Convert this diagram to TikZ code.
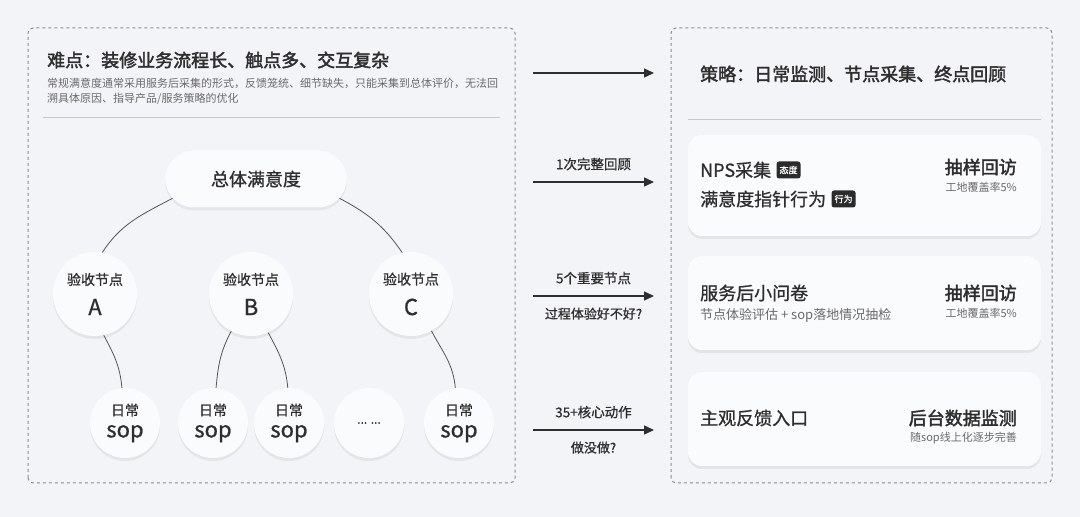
\documentclass[tikz,border=0pt]{standalone}
\usepackage{fontspec}
\setmainfont{Noto Sans CJK SC}[BoldFont={Noto Sans CJK SC},BoldFeatures={FakeBold=2.2}]
\newfontfamily\medfont{Noto Sans CJK SC}[FakeBold=0.9]
\usepackage{tikz}
\usetikzlibrary{positioning}
\usetikzlibrary{arrows.meta,shapes.misc,shadows}

\definecolor{bgc}{HTML}{F3F4F8}
\definecolor{cardc}{HTML}{FAFBFD}
\definecolor{inkc}{HTML}{2E2E2E}
\definecolor{grayc}{HTML}{6A6A6A}
\definecolor{dashc}{HTML}{8C8C8C}
\definecolor{rulec}{HTML}{C6C8CD}
\definecolor{wirec}{HTML}{555555}
\definecolor{badgec}{HTML}{2B2B2B}
\newcommand\fsz[2]{\fontsize{#1pt}{#2pt}\selectfont}

\begin{document}
\begin{tikzpicture}[x=1pt,y=1pt,->,>={Triangle[length=10pt,width=9pt]},
  frame/.style={-,draw=dashc,line width=1pt,dash pattern=on 3pt off 3pt,rounded corners=5pt},
  rule/.style={-,draw=rulec,line width=1pt},
  soft/.style={drop shadow={shadow xshift=0pt,shadow yshift=-3pt,opacity=.06,fill=black}},
  pill/.style={rounded rectangle,fill=cardc,soft,minimum width=188pt,minimum height=57pt,text=inkc,font=\medfont\fsz{18}{20}},
  ring/.style={circle,fill=cardc,soft,minimum size=84pt,inner sep=0pt,align=center,text=inkc,font=\medfont\fsz{14}{16}},
  dot/.style={circle,fill=cardc,soft,minimum size=70pt,inner sep=0pt,align=center,text=inkc,font=\medfont\fsz{14}{16}},
  card/.style={rectangle,rounded corners=14pt,fill=cardc,soft,minimum width=353pt},
  txt/.style={inner sep=0pt,text=inkc},
  head/.style={txt,font=\bfseries\fsz{18}{20}},
  big/.style={txt,font=\medfont\fsz{18}{20}},
  small/.style={txt,text=grayc,font=\fsz{11}{13}},
  badge/.style={fill=badgec,text=white,rounded corners=2.5pt,inner xsep=3pt,inner ysep=0pt,minimum height=17pt,font=\medfont\fsz{9}{10}},
  wire/.style={-,draw=wirec,line width=.8pt},
  flow/.style={draw=inkc,line width=1.3pt},
  tip/.style={txt,font=\medfont\fsz{13.5}{15}}]

\useasboundingbox[fill=bgc] (0,0) rectangle (1080,517);

% left: the problem
\draw[frame] (28,34) rectangle (515,489);
\node[head,anchor=west] (hard) at (47,457) {难点：装修业务流程长、触点多、交互复杂};
\node[small,anchor=west,align=left,font=\fsz{11}{15.5}] (hardsub) at (47,425.5)
  {常规满意度通常采用服务后采集的形式，反馈笼统、细节缺失，只能采集到总体评价，无法回\\溯具体原因、指导产品/服务策略的优化};
\draw[rule] (43,399) -- (500,399);

\node[pill] (total) at (256,338) {总体满意度};
\node[ring] (na) at (95,223) {验收节点\\[12pt]{\fsz{22}{24}A}};
\node[ring] (nb) at (251,223) {验收节点\\[12pt]{\fsz{22}{24}B}};
\node[ring] (nc) at (411,223) {验收节点\\[12pt]{\fsz{22}{24}C}};
\node[dot] (s1) at (125,94) {日常\\[6pt]{\fsz{22}{22}sop}};
\node[dot] (s2) at (213,94) {日常\\[6pt]{\fsz{22}{22}sop}};
\node[dot] (s3) at (289,94) {日常\\[6pt]{\fsz{22}{22}sop}};
\node[dot,font=\medfont\fsz{12}{14}] (s4) at (369,94) {... ...};
\node[dot] (s5) at (459,94) {日常\\[6pt]{\fsz{22}{22}sop}};

\draw[wire] (total.193) to[out=208,in=57] (na.80);
\draw[wire] (total.347) to[out=332,in=124] (nc.102);
\draw[wire] (na.282) to[out=-62,in=95] (s1.95);
\draw[wire] (nb.242) to[out=-118,in=85] (s2.85);
\draw[wire] (nb.294) to[out=-62,in=95] (s3.92);
\draw[wire] (nc.299) to[out=-62,in=95] (s5.96);

% arrows in between
\coordinate (f1s) at (533,444); \coordinate (f1e) at (654,444);
\coordinate (f2s) at (533,335); \coordinate (f2e) at (654,335);
\coordinate (f3s) at (533,221); \coordinate (f3e) at (654,221);
\coordinate (f4s) at (533,87);  \coordinate (f4e) at (654,87);
\draw[flow] (f1s) -- (f1e);
\draw[flow] (f2s) -- node[tip,above=11pt] {1次完整回顾} (f2e);
\draw[flow] (f3s) -- node[tip,above=11pt] {5个重要节点}
  node[tip,below=11pt,font=\medfont\fsz{13}{15}] {过程体验好不好?} (f3e);
\draw[flow] (f4s) -- node[tip,above=11pt] {35+核心动作}
  node[tip,below=11pt,font=\medfont\fsz{13}{15}] {做没做?} (f4e);

% right: the plan
\draw[frame] (671,34) rectangle (1052,489);
\node[head,anchor=west] (plan) at (700,443) {策略：日常监测、节点采集、终点回顾};
\draw[rule] (688,397) -- (1041,397);

\node[card,minimum height=101pt] (c1) at (864.5,331.5) {};
\node[card,minimum height=94pt] (c2) at (864.5,214) {};
\node[card,minimum height=94pt] (c3) at (864.5,98) {};

\node[big,anchor=west] (nps) at (700,347) {NPS采集};
\node[badge,right=5pt of nps] (tai) {态度};
\node[big,anchor=west] (zhen) at (700,318) {满意度指针行为};
\node[badge,right=5pt of zhen] (xing) {行为};
\node[head,anchor=east] (chou1) at (1017,350) {抽样回访};
\node[small,anchor=east] (cov1) at (1017,330) {工地覆盖率5\%};

\node[big,anchor=west] (wen) at (700,224) {服务后小问卷};
\node[small,anchor=west,font=\fsz{13}{15}] (wensub) at (700,202) {节点体验评估 + sop落地情况抽检};
\node[head,anchor=east] (chou2) at (1017,224) {抽样回访};
\node[small,anchor=east] (cov2) at (1017,204) {工地覆盖率5\%};

\node[big,anchor=west] (fan) at (700,99) {主观反馈入口};
\node[head,anchor=east] (jian) at (1017,99) {后台数据监测};
\node[small,anchor=east] (jiansub) at (1017,79) {随sop线上化逐步完善};
\end{tikzpicture}
\end{document}
